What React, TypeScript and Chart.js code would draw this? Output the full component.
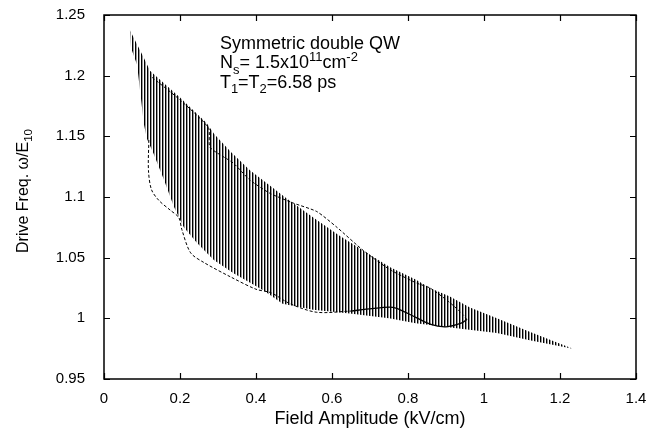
import React, { useEffect, useRef } from 'react';
import { Chart, registerables } from 'chart.js';

Chart.register(...registerables);

// ---------- axis ticks ----------
const xTicks = [0, 0.2, 0.4, 0.6, 0.8, 1, 1.2, 1.4];
const xTickLabels = ['0', '0.2', '0.4', '0.6', '0.8', '1', '1.2', '1.4'];
const yTicks = [0.95, 1, 1.05, 1.1, 1.15, 1.2, 1.25];
const yTickLabels = ['0.95', '1', '1.05', '1.1', '1.15', '1.2', '1.25'];

// ---------- hatched (bistable) region ----------
const hatchUpperX = [0.068, 0.105, 0.121, 0.2, 0.27, 0.29, 0.334, 0.384, 0.48, 0.56, 0.62, 0.682, 0.753, 0.82, 0.858, 0.91, 0.963, 1.034, 1.12, 1.234];
const hatchUpperY = [1.2376, 1.2146, 1.204, 1.182, 1.161, 1.152, 1.137, 1.122, 1.099, 1.081, 1.068, 1.056, 1.042, 1.032, 1.025, 1.018, 1.009, 1.0, 0.989, 0.975];

const hatchLowerX = [0.068, 0.071, 0.087, 0.097, 0.105, 0.113, 0.13, 0.158, 0.184, 0.21, 0.245, 0.289, 0.342, 0.387, 0.42, 0.47, 0.55, 0.647, 0.75, 0.82, 0.95, 1.034, 1.12, 1.234];
const hatchLowerY = [1.2376, 1.223, 1.209, 1.182, 1.16, 1.148, 1.136, 1.114, 1.092, 1.075, 1.062, 1.048, 1.037, 1.029, 1.023, 1.012, 1.007, 1.004, 1.0, 0.996, 0.991, 0.988, 0.982, 0.975];

// ---------- boundary curves ----------
const lowerDashX = [0.118, 0.117, 0.125, 0.145, 0.175, 0.197, 0.205, 0.228, 0.263, 0.334, 0.4, 0.44, 0.49, 0.56, 0.65];
const lowerDashY = [1.147, 1.122, 1.106, 1.097, 1.089, 1.083, 1.073, 1.054, 1.046, 1.034, 1.024, 1.021, 1.012, 1.005, 1.006];

const solidX = [0.65, 0.705, 0.76, 0.8, 0.86, 0.9, 0.94, 0.955];
const solidY = [1.006, 1.008, 1.009, 1.004, 0.995, 0.993, 0.996, 0.999];

const upperDashX = [0.955, 0.945, 0.91, 0.858, 0.823, 0.753, 0.682, 0.613, 0.56, 0.498, 0.437, 0.384, 0.34, 0.279, 0.275, 0.2, 0.121];
const upperDashY = [0.999, 1.003, 1.013, 1.025, 1.029, 1.04, 1.056, 1.075, 1.088, 1.095, 1.103, 1.114, 1.128, 1.141, 1.157, 1.18, 1.2];

const FONT = '"Liberation Sans", Arial, Helvetica, sans-serif';

type Seg = { t: string; k?: 'sub' | 'sup' };
const annotationLines: Seg[][] = [
  [{ t: 'Symmetric double QW' }],
  [{ t: 'N' }, { t: 's', k: 'sub' }, { t: '= 1.5x10' }, { t: '11', k: 'sup' }, { t: 'cm' }, { t: '-2', k: 'sup' }],
  [{ t: 'T' }, { t: '1', k: 'sub' }, { t: '=T' }, { t: '2', k: 'sub' }, { t: '=6.58 ps' }],
];
const yTitle: Seg[] = [{ t: 'Drive Freq. \u03C9/E' }, { t: '10', k: 'sub' }];

const pts = (xs: number[], ys: number[]) => xs.map((x, i) => ({ x, y: ys[i] }));

function richWidth(ctx: CanvasRenderingContext2D, segs: Seg[], size: number) {
  let w = 0;
  for (const s of segs) {
    const sz = s.k ? size * 0.72 : size;
    ctx.font = `${sz}px ${FONT}`;
    w += ctx.measureText(s.t).width;
  }
  return w;
}

function drawRich(ctx: CanvasRenderingContext2D, segs: Seg[], x: number, y: number, size: number) {
  let cx = x;
  for (const s of segs) {
    const sz = s.k ? size * 0.72 : size;
    ctx.font = `${sz}px ${FONT}`;
    const dy = s.k === 'sub' ? size * 0.28 : s.k === 'sup' ? -size * 0.42 : 0;
    ctx.fillText(s.t, cx, y + dy);
    cx += ctx.measureText(s.t).width;
  }
}

const framePlugin = {
  id: 'frame',
  afterDatasetsDraw(chart: any) {
    const { ctx, chartArea: a, scales } = chart;
    const xs = scales.x;
    const ys = scales.y;
    ctx.save();
    ctx.strokeStyle = '#000';
    ctx.lineWidth = 1.2;
    const tl = 6;
    ctx.beginPath();
    for (const v of xTicks) {
      const px = Math.round(xs.getPixelForValue(v)) + 0.5;
      ctx.moveTo(px, a.bottom);
      ctx.lineTo(px, a.bottom - tl);
      ctx.moveTo(px, a.top);
      ctx.lineTo(px, a.top + tl);
    }
    for (const v of yTicks) {
      const py = Math.round(ys.getPixelForValue(v)) + 0.5;
      ctx.moveTo(a.left, py);
      ctx.lineTo(a.left + tl, py);
      ctx.moveTo(a.right, py);
      ctx.lineTo(a.right - tl, py);
    }
    ctx.stroke();
    ctx.lineWidth = 1.5;
    ctx.strokeRect(a.left, a.top, a.right - a.left, a.bottom - a.top);

    // annotation
    ctx.fillStyle = '#000';
    ctx.textBaseline = 'alphabetic';
    ctx.textAlign = 'left';
    const ax = xs.getPixelForValue(0.305);
    const ay0 = ys.getPixelForValue(1.222);
    annotationLines.forEach((line, i) => drawRich(ctx, line, ax, ay0 + i * 19.5, 18));

    // y-axis title
    const size = 16;
    const w = richWidth(ctx, yTitle, size);
    ctx.translate(28, (a.top + a.bottom) / 2 - 6);
    ctx.rotate(-Math.PI / 2);
    drawRich(ctx, yTitle, -w / 2, 0, size);
    ctx.restore();
  },
};

export default function App() {
  const ref = useRef<HTMLCanvasElement>(null);

  useEffect(() => {
    document.body.style.margin = '0';
    const canvas = ref.current!;
    const pc = document.createElement('canvas');
    pc.width = 3;
    pc.height = 1;
    const pctx = pc.getContext('2d')!;
    pctx.fillStyle = 'rgba(0,0,0,1)';
    pctx.fillRect(0, 0, 1, 1);
    pctx.fillStyle = 'rgba(0,0,0,0.4)';
    pctx.fillRect(1, 0, 1, 1);
    const pattern = pctx.createPattern(pc, 'repeat')!;

    const chart = new Chart(canvas, {
      type: 'line',
      data: {
        datasets: [
          {
            label: 'hatch upper',
            data: pts(hatchUpperX, hatchUpperY),
            borderWidth: 0,
            borderColor: 'rgba(0,0,0,0)',
            backgroundColor: pattern as any,
            pointRadius: 0,
            fill: '+1',
            tension: 0,
          },
          {
            label: 'hatch lower',
            data: pts(hatchLowerX, hatchLowerY),
            borderWidth: 0,
            borderColor: 'rgba(0,0,0,0)',
            pointRadius: 0,
            fill: false,
            tension: 0,
          },
          {
            label: 'lower dashed',
            data: pts(lowerDashX, lowerDashY),
            borderColor: '#000',
            borderWidth: 1,
            borderDash: [3, 2],
            pointRadius: 0,
            fill: false,
            tension: 0.3,
          },
          {
            label: 'solid',
            data: pts(solidX, solidY),
            borderColor: '#000',
            borderWidth: 1.3,
            pointRadius: 0,
            fill: false,
            tension: 0.3,
          },
          {
            label: 'upper dashed',
            data: pts(upperDashX, upperDashY),
            borderColor: '#000',
            borderWidth: 1,
            borderDash: [3, 2],
            pointRadius: 0,
            fill: false,
            tension: 0.2,
          },
        ],
      },
      options: {
        animation: false,
        responsive: false,
        maintainAspectRatio: false,
        layout: { padding: { top: 15, right: 11, left: 0, bottom: 0 } },
        plugins: {
          legend: { display: false },
          tooltip: { enabled: false },
        },
        scales: {
          x: {
            type: 'linear',
            min: 0,
            max: 1.4,
            afterBuildTicks: (s: any) => {
              s.ticks = xTicks.map((v) => ({ value: v }));
            },
            afterFit: (s: any) => {
              s.height = 58;
              s.paddingLeft = 0;
              s.paddingRight = 0;
            },
            grid: { display: false, drawTicks: false },
            border: { display: false },
            ticks: {
              padding: 11,
              color: '#000',
              font: { family: FONT, size: 15 },
              maxRotation: 0,
              autoSkip: false,
              callback: (_v: any, i: number) => xTickLabels[i],
            },
            title: {
              display: true,
              text: 'Field Amplitude (kV/cm)',
              color: '#000',
              font: { family: FONT, size: 18 },
              padding: { top: 0, bottom: 7 },
            },
          },
          y: {
            type: 'linear',
            min: 0.95,
            max: 1.25,
            afterBuildTicks: (s: any) => {
              s.ticks = yTicks.map((v) => ({ value: v }));
            },
            afterFit: (s: any) => {
              s.width = 104;
              s.paddingTop = 0;
              s.paddingBottom = 0;
            },
            grid: { display: false, drawTicks: false },
            border: { display: false },
            ticks: {
              padding: 19,
              color: '#000',
              font: { family: FONT, size: 15 },
              autoSkip: false,
              callback: (_v: any, i: number) => yTickLabels[i],
            },
          },
        },
      },
      plugins: [framePlugin],
    });
    return () => chart.destroy();
  }, []);

  return (
    <div style={{ width: 647, height: 437 }}>
      <canvas ref={ref} width={647} height={437} style={{ display: 'block', width: 647, height: 437 }} />
    </div>
  );
}
